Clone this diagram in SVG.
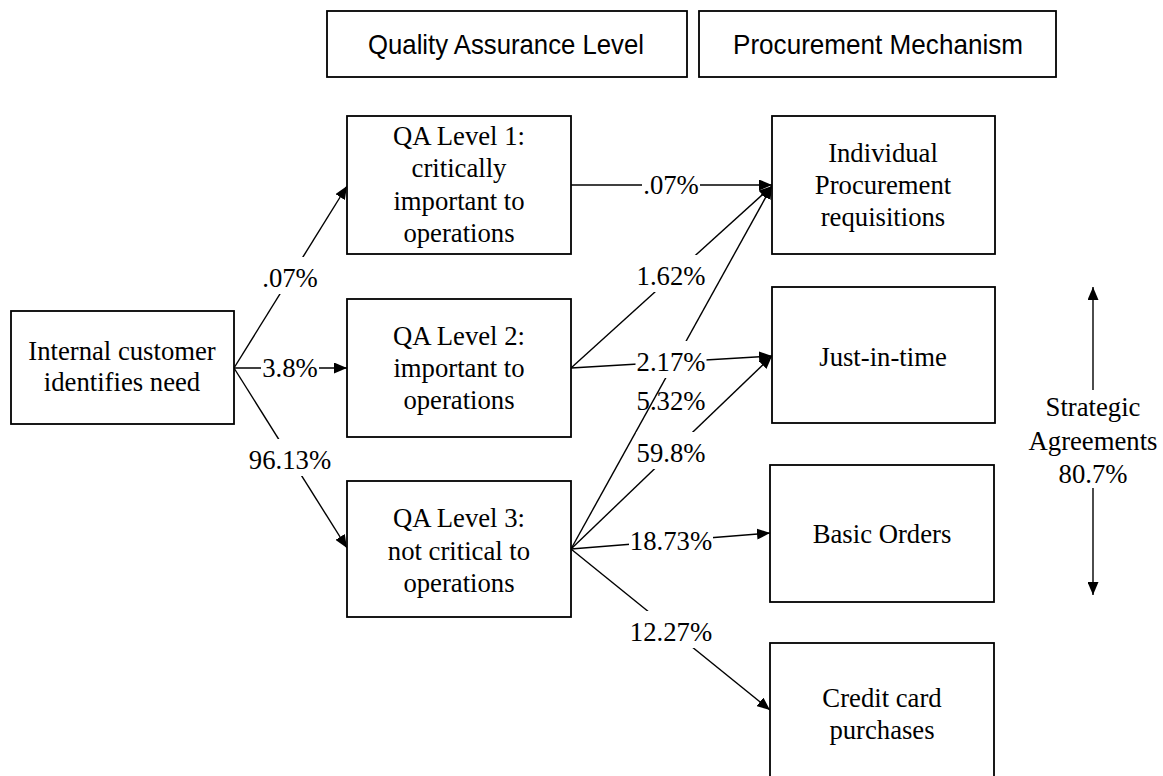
<svg xmlns="http://www.w3.org/2000/svg" width="1163" height="776" viewBox="0 0 1163 776">
  <style>
    .box { fill: #ffffff; stroke: #000000; stroke-width: 1.8; }
    .head { font-family: "Liberation Sans", Arial, sans-serif; font-size: 28px; fill: #000000; text-anchor: middle; }
    .txt { font-family: "Liberation Serif", "Times New Roman", serif; font-size: 26.7px; fill: #000000; text-anchor: middle; }
    .conn { fill: none; stroke: #000000; stroke-width: 1.4; marker-end: url(#ah); }
    .lbg { fill: #ffffff; stroke: none; }
  </style>
  <defs>
    <marker id="ah" viewBox="0 0 13 11" refX="13" refY="5.5" markerWidth="13" markerHeight="11" markerUnits="userSpaceOnUse" orient="auto">
      <path d="M0,0 L13,5.5 L0,11 z" fill="#000000"/>
    </marker>
  </defs>
  <rect x="0" y="0" width="1163" height="776" fill="#ffffff"/>

  <!-- column headings -->
  <g id="head-qa">
    <rect class="box" x="327" y="11" width="360" height="66"/>
    <text class="head" x="506" y="54" textLength="276" lengthAdjust="spacingAndGlyphs">Quality Assurance Level</text>
  </g>
  <g id="head-proc">
    <rect class="box" x="699" y="11" width="357" height="66"/>
    <text class="head" x="878" y="54" textLength="290" lengthAdjust="spacingAndGlyphs">Procurement Mechanism</text>
  </g>

  <!-- connectors -->
  <g id="connectors">
    <line class="conn" x1="234" y1="368" x2="347" y2="186"/>
    <line class="conn" x1="234" y1="368" x2="347" y2="368"/>
    <line class="conn" x1="234" y1="368" x2="347" y2="548"/>
    <line class="conn" x1="571" y1="185" x2="772" y2="185"/>
    <line class="conn" x1="571" y1="368" x2="772" y2="186"/>
    <line class="conn" x1="571" y1="368" x2="772" y2="356"/>
    <line class="conn" x1="571" y1="549" x2="772" y2="186"/>
    <line class="conn" x1="571" y1="549" x2="772" y2="356"/>
    <line class="conn" x1="571" y1="549" x2="770" y2="533"/>
    <line class="conn" x1="571" y1="549" x2="770" y2="710"/>
  </g>

  <!-- connector labels (white backing breaks the line under the text) -->
  <g id="labels">
    <rect class="lbg" x="261" y="257" width="58" height="37"/>
    <text class="txt" x="290" y="287">.07%</text>
    <rect class="lbg" x="261" y="347" width="58" height="37"/>
    <text class="txt" x="290" y="377">3.8%</text>
    <rect class="lbg" x="248" y="439" width="84" height="37"/>
    <text class="txt" x="290" y="469">96.13%</text>

    <rect class="lbg" x="642" y="164" width="58" height="37"/>
    <text class="txt" x="671" y="194">.07%</text>
    <rect class="lbg" x="635.5" y="255" width="71" height="37"/>
    <text class="txt" x="671" y="285">1.62%</text>
    <rect class="lbg" x="635.5" y="341" width="71" height="37"/>
    <text class="txt" x="671" y="371">2.17%</text>
    <text class="txt" x="671" y="410">5.32%</text>
    <rect class="lbg" x="636.5" y="432" width="69" height="37"/>
    <text class="txt" x="671" y="462">59.8%</text>
    <rect class="lbg" x="629" y="520" width="84" height="37"/>
    <text class="txt" x="671" y="550">18.73%</text>
    <rect class="lbg" x="629" y="611" width="84" height="37"/>
    <text class="txt" x="671" y="641">12.27%</text>
  </g>

  <!-- nodes -->
  <g id="internal">
    <rect class="box" x="11" y="311" width="223" height="113"/>
    <text class="txt" x="122" y="360">Internal customer</text>
    <text class="txt" x="122" y="391">identifies need</text>
  </g>
  <g id="qa1">
    <rect class="box" x="347" y="116" width="224" height="138"/>
    <text class="txt" x="459" y="145">QA Level 1:</text>
    <text class="txt" x="459" y="177">critically</text>
    <text class="txt" x="459" y="210">important to</text>
    <text class="txt" x="459" y="242">operations</text>
  </g>
  <g id="qa2">
    <rect class="box" x="347" y="299" width="224" height="138"/>
    <text class="txt" x="459" y="345">QA Level 2:</text>
    <text class="txt" x="459" y="377">important to</text>
    <text class="txt" x="459" y="409">operations</text>
  </g>
  <g id="qa3">
    <rect class="box" x="347" y="481" width="224" height="136"/>
    <text class="txt" x="459" y="527">QA Level 3:</text>
    <text class="txt" x="459" y="560">not critical to</text>
    <text class="txt" x="459" y="592">operations</text>
  </g>
  <g id="individual">
    <rect class="box" x="772" y="116" width="223" height="138"/>
    <text class="txt" x="883" y="162">Individual</text>
    <text class="txt" x="883" y="194">Procurement</text>
    <text class="txt" x="883" y="226">requisitions</text>
  </g>
  <g id="jit">
    <rect class="box" x="772" y="287" width="223" height="136"/>
    <text class="txt" x="883" y="366">Just-in-time</text>
  </g>
  <g id="basic">
    <rect class="box" x="770" y="465" width="224" height="137"/>
    <text class="txt" x="882" y="543">Basic Orders</text>
  </g>
  <g id="credit">
    <rect class="box" x="770" y="643" width="224" height="140"/>
    <text class="txt" x="882" y="707">Credit card</text>
    <text class="txt" x="882" y="739">purchases</text>
  </g>

  <!-- strategic agreements span -->
  <g id="strategic">
    <line class="conn" x1="1093" y1="390" x2="1093" y2="287"/>
    <line class="conn" x1="1093" y1="488" x2="1093" y2="595"/>
    <text class="txt" x="1093" y="416">Strategic</text>
    <text class="txt" x="1093" y="450">Agreements</text>
    <text class="txt" x="1093" y="483">80.7%</text>
  </g>
</svg>
